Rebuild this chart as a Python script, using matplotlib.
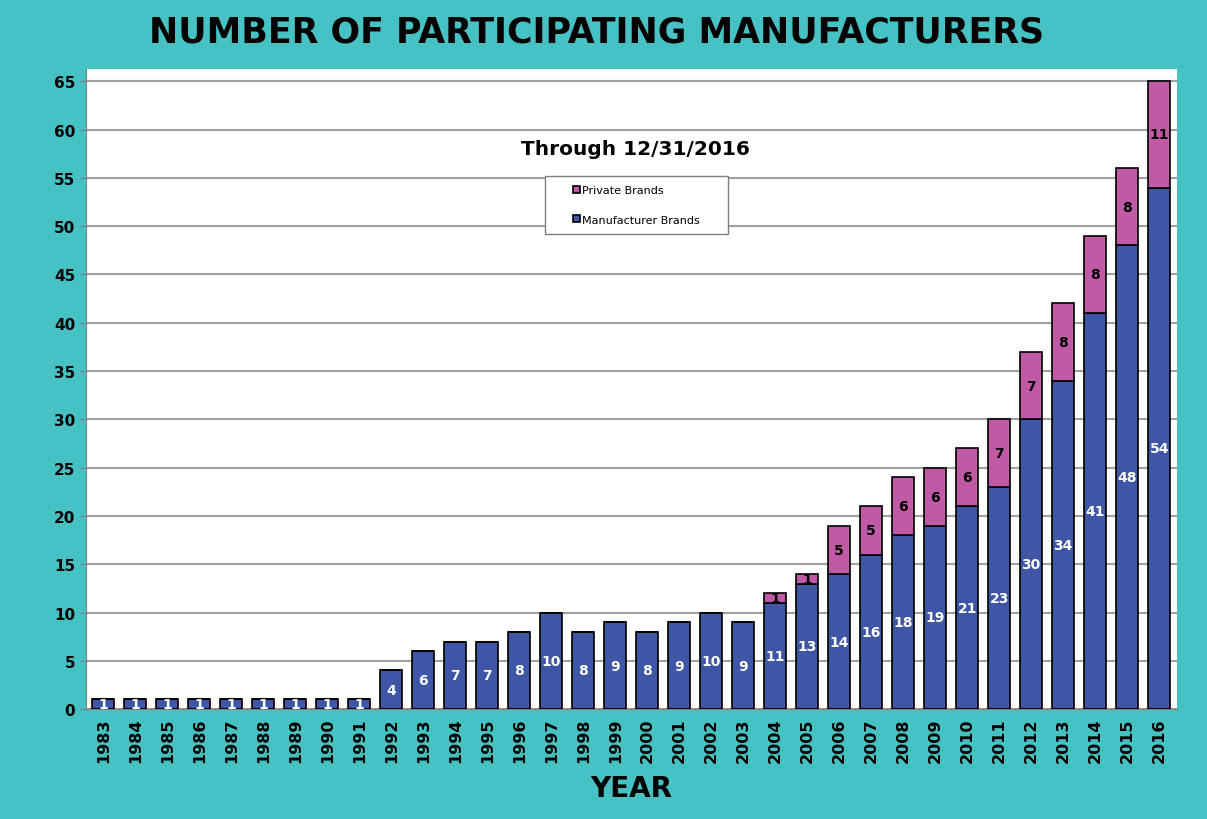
import matplotlib.pyplot as plt
from matplotlib.patches import Rectangle
import numpy as np

years = [str(y) for y in range(1983, 2017)]
manufacturer = [1, 1, 1, 1, 1, 1, 1, 1, 1, 4, 6, 7, 7, 8, 10, 8, 9, 8, 9, 10, 9,
                11, 13, 14, 16, 18, 19, 21, 23, 30, 34, 41, 48, 54]
private = [0, 0, 0, 0, 0, 0, 0, 0, 0, 0, 0, 0, 0, 0, 0, 0, 0, 0, 0, 0, 0,
           1, 1, 5, 5, 6, 6, 6, 7, 7, 8, 8, 8, 11]

plt.rcParams['font.family'] = ['DejaVu Sans']
blue = '#3F55A6'
pink = '#C05AA6'
teal = '#46C1C4'

fig = plt.figure(figsize=(12.07, 8.2), dpi=100, facecolor=teal)
ax = fig.add_axes([0.071, 0.134, 0.904, 0.781])
ax.set_facecolor('white')

x = np.arange(len(years))
b1 = ax.bar(x, manufacturer, width=0.68, color=blue, edgecolor='black', linewidth=1.2,
            label='Manufacturer Brands', zorder=3)
b2 = ax.bar(x, private, width=0.68, bottom=manufacturer, color=pink, edgecolor='black',
            linewidth=1.2, label='Private Brands', zorder=3)

for i in range(len(years)):
    ax.text(x[i], manufacturer[i] / 2, str(manufacturer[i]), ha='center', va='center',
            color='white', fontsize=10, fontweight='bold', zorder=4)
    if private[i] > 0:
        ax.text(x[i], manufacturer[i] + private[i] / 2, str(private[i]), ha='center',
                va='center', color='black', fontsize=10, fontweight='bold', zorder=4)

ax.set_xlim(-0.55, len(years) - 0.45)
ax.set_ylim(0, 66.3)
ax.set_yticks(range(0, 66, 5))
ax.yaxis.grid(True, color='#A0A0A0', linewidth=1.5, zorder=0)
ax.set_xticks(x)
ax.set_xticklabels(years, rotation=90, fontsize=11.5, fontweight='bold')
for lbl in ax.get_yticklabels():
    lbl.set_fontweight('bold')
    lbl.set_fontsize(11)
ax.tick_params(axis='x', length=0, pad=6)
ax.tick_params(axis='y', length=4, color='#808080')
for s in ['top', 'right']:
    ax.spines[s].set_visible(False)
ax.spines['left'].set_color('#808080')
ax.spines['bottom'].set_color('#808080')

fig.text(0.494, 0.96, 'NUMBER OF PARTICIPATING MANUFACTURERS', ha='center', va='center',
         fontsize=25, fontweight='bold')
fig.text(0.523, 0.038, 'YEAR', ha='center', va='center', fontsize=20, fontweight='bold')
ax.text(0.504, 0.876, 'Through 12/31/2016', transform=ax.transAxes, ha='center',
        va='center', fontsize=14.5, fontweight='bold')

# legend box drawn separately (wider than matplotlib's own frame)
box = Rectangle((0.421, 0.742), 0.1677, 0.0905, transform=ax.transAxes,
                facecolor='white', edgecolor='#808080', linewidth=1.0, zorder=5)
ax.add_patch(box)
leg = ax.legend([b2, b1], ['Private Brands', 'Manufacturer Brands'], loc='upper left',
                bbox_to_anchor=(0.447, 0.818), fontsize=8, frameon=False,
                handlelength=0.6, handleheight=0.6, borderpad=0, labelspacing=1.75,
                handletextpad=0.2, borderaxespad=0)
leg.set_zorder(6)

fig.savefig('out.png', dpi=100, facecolor=teal)
